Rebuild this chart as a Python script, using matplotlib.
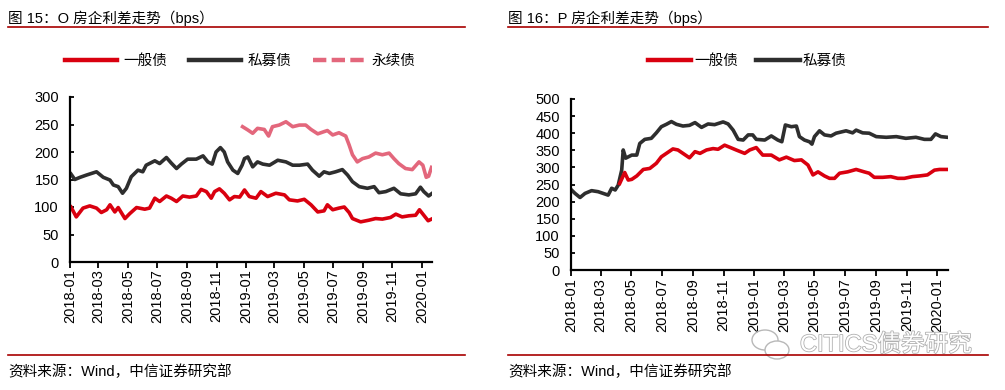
import numpy as np
import pandas as pd
import matplotlib
matplotlib.use("Agg")
import matplotlib.pyplot as plt
import matplotlib.dates as mdates
import matplotlib.patheffects as pe
from matplotlib.lines import Line2D
from matplotlib.patches import Ellipse

plt.rcParams['font.family'] = ['Liberation Sans', 'Noto Sans CJK SC', 'DejaVu Sans']

# ---- data (days since 2018-01-01, spread in bps) ----
o_general_days = [2, 13, 27, 41, 55, 65, 76, 83, 93, 100, 114, 124, 138, 155, 165, 176, 186, 200, 210, 221,
                  234, 248, 262, 272, 283, 293, 300, 310, 320, 331, 341, 352, 362, 372, 386, 396, 410, 427,
                  445, 455, 472, 486, 500, 514, 527, 534, 545, 558, 569, 579, 586, 603, 620, 634, 648, 665,
                  676, 689, 703, 717, 725, 734, 743, 750]
o_general = [100, 82, 98, 102, 98, 90, 95, 104, 91, 99, 79, 88, 99, 96, 98, 116, 110, 120, 116, 110,
             120, 118, 120, 132, 128, 116, 128, 133, 125, 113, 119, 118, 131, 119, 116, 128, 119, 125,
             122, 113, 111, 114, 104, 91, 93, 104, 95, 98, 100, 90, 79, 73, 76, 79, 78, 81,
             87, 82, 84, 85, 95, 85, 75, 78]

o_private_days = [2, 10, 21, 34, 55, 69, 83, 90, 100, 109, 117, 127, 141, 151, 158, 176, 186, 200, 210, 221,
                  231, 244, 262, 276, 286, 295, 303, 312, 320, 327, 338, 348, 357, 362, 369, 379, 389, 400,
                  414, 431, 448, 462, 476, 493, 503, 517, 527, 538, 551, 565, 576, 586, 600, 617, 631, 641,
                  655, 672, 686, 703, 717, 727, 734, 744, 750]
o_private = [160, 150, 154, 158, 164, 154, 149, 140, 137, 125, 134, 155, 167, 164, 176, 184, 179, 190, 180, 170,
             178, 187, 187, 193, 182, 178, 200, 208, 200, 182, 167, 161, 176, 188, 191, 173, 182, 178,
             176, 185, 182, 176, 176, 178, 167, 156, 164, 161, 164, 168, 158, 146, 137, 134, 137, 126,
             128, 134, 124, 122, 124, 136, 128, 120, 124]

o_perp_days = [358, 369, 379, 389, 403, 412, 420, 434, 448, 462, 476, 489, 500, 514, 527, 534, 545, 558,
               572, 579, 586, 596, 607, 620, 634, 648, 662, 672, 682, 696, 710, 724, 732, 739, 744, 750]
o_perp = [246, 240, 234, 243, 241, 229, 246, 249, 255, 246, 249, 249, 241, 233, 237, 239, 231, 235,
          229, 213, 195, 182, 188, 191, 198, 195, 198, 188, 179, 170, 168, 182, 176, 154, 156, 172]

p_general_days = [97, 107, 114, 121, 131, 144, 157, 170, 180, 190, 203, 213, 223, 236, 247, 257, 270, 283,
                  293, 306, 316, 329, 346, 356, 369, 382, 399, 415, 429, 445, 459, 472, 482, 492, 505, 515,
                  525, 535, 551, 568, 584, 594, 604, 621, 637, 651, 664, 680, 694, 710, 724, 734, 750]
p_general = [253, 285, 263, 265, 275, 294, 297, 312, 331, 341, 354, 351, 341, 328, 346, 341, 351, 355,
             353, 365, 359, 351, 341, 351, 358, 336, 336, 322, 330, 320, 322, 307, 278, 287, 275, 268,
             268, 283, 287, 294, 287, 283, 271, 271, 273, 268, 268, 273, 275, 278, 292, 294, 294]

p_private_days = [1, 8, 18, 28, 41, 54, 64, 74, 81, 88, 94, 101, 104, 109, 121, 131, 137, 147, 160, 170,
                  180, 190, 200, 210, 223, 236, 247, 260, 273, 286, 303, 313, 323, 333, 343, 353, 362, 369,
                  386, 399, 412, 420, 427, 439, 449, 455, 465, 475, 480, 485, 495, 505, 518, 528, 548, 561,
                  568, 581, 594, 608, 628, 648, 667, 687, 704, 717, 726, 737, 750]
p_private = [234, 224, 212, 224, 232, 229, 224, 219, 239, 234, 248, 292, 351, 327, 336, 336, 370, 382, 385, 401,
             419, 426, 434, 426, 421, 423, 431, 417, 427, 425, 433, 427, 409, 382, 380, 395, 395, 382,
             380, 392, 380, 375, 424, 419, 421, 390, 380, 375, 368, 390, 407, 395, 392, 400, 407, 401,
             409, 401, 400, 390, 388, 390, 385, 388, 382, 382, 398, 390, 388]

labels = ['一般债', '私募债', '永续债']
RED = '#D9000F'
BLACK = '#2E2E2E'
PINK = '#E3677C'
LINE_RED = '#A80000'

start = pd.Timestamp('2018-01-01')


def to_dates(days):
    return start + pd.to_timedelta(days, unit='D')


fig = plt.figure(figsize=(10.05, 3.9), dpi=100)


def style_axis(ax, ymax, step):
    ax.set_xlim(start, start + pd.Timedelta(days=751))
    ax.set_ylim(0, ymax)
    ax.set_yticks(np.arange(0, ymax + 1, step))
    ax.xaxis.set_major_locator(mdates.MonthLocator(bymonth=[1, 3, 5, 7, 9, 11]))
    ax.xaxis.set_major_formatter(mdates.DateFormatter('%Y-%m'))
    for s in ['top', 'right']:
        ax.spines[s].set_visible(False)
    for s in ['left', 'bottom']:
        ax.spines[s].set_linewidth(1.6)
        ax.spines[s].set_color('black')
    ax.tick_params(axis='y', direction='in', length=3, width=1.3, labelsize=10.5, pad=8)
    ax.tick_params(axis='x', direction='out', length=4, width=1.3, labelsize=10.5, pad=1,
                   labelrotation=90)


# ---- left panel ----
ax1 = fig.add_axes([70 / 1005, 128 / 390, 362 / 1005, 165 / 390])
ax1.plot(to_dates(o_general_days), o_general, color=RED, lw=2.6)
ax1.plot(to_dates(o_private_days), o_private, color=BLACK, lw=2.6)
ax1.plot(to_dates(o_perp_days), o_perp, color=PINK, lw=2.6)
style_axis(ax1, 300, 50)

h1 = [Line2D([], [], color=RED, lw=3.2),
      Line2D([], [], color=BLACK, lw=3.2),
      Line2D([], [], color=PINK, lw=3.2, linestyle=(0, (3.0, 1.2)))]
fig.legend(h1, labels, loc='center', bbox_to_anchor=(240 / 1005, 1 - 61 / 390), ncol=3,
           frameon=False, fontsize=10.5, handlelength=3.6, handletextpad=0.4, columnspacing=1.5)

# ---- right panel ----
ax2 = fig.add_axes([571 / 1005, 120 / 390, 377 / 1005, 171 / 390])
ax2.plot(to_dates(p_private_days), p_private, color=BLACK, lw=2.6)
ax2.plot(to_dates(p_general_days), p_general, color=RED, lw=2.6)
style_axis(ax2, 500, 50)
ax2.tick_params(axis='x', pad=2)

h2 = [Line2D([], [], color=RED, lw=3.2), Line2D([], [], color=BLACK, lw=3.2)]
fig.legend(h2, labels[:2], loc='center', bbox_to_anchor=(747 / 1005, 1 - 61 / 390), ncol=2,
           frameon=False, fontsize=10.5, handlelength=3.0, handletextpad=0.2, columnspacing=1.2)

# ---- titles, rules, source ----
for x0, x1, title in [(8, 465, '图 15：O 房企利差走势（bps）'), (508, 988, '图 16：P 房企利差走势（bps）')]:
    fig.text(x0 / 1005, 1 - 18 / 390, title, fontsize=10.5, va='center', ha='left')
    fig.add_artist(Line2D([x0 / 1005, x1 / 1005], [1 - 27 / 390, 1 - 27 / 390], color=LINE_RED, lw=1.2))
    fig.add_artist(Line2D([x0 / 1005, x1 / 1005], [1 - 355 / 390, 1 - 355 / 390], color=LINE_RED, lw=1.2))
    fig.text(x0 / 1005, 1 - 372 / 390, '资料来源：Wind，中信证券研究部', fontsize=10.5, va='center', ha='left')

# watermark
fig.text(800 / 1005, 1 - 345 / 390, 'CITICS债券研究', fontsize=17, color='white', va='center', ha='left',
         path_effects=[pe.withStroke(linewidth=1.2, foreground='#b0b0b0')])
fig.add_artist(Ellipse((765 / 1005, 1 - 340 / 390), 26 / 1005, 20 / 390, fill=False, ec='#b8b8b8', lw=1))
fig.add_artist(Ellipse((777 / 1005, 1 - 350 / 390), 24 / 1005, 18 / 390, fc='white', ec='#b8b8b8', lw=1))

fig.savefig('out.png', dpi=100)
